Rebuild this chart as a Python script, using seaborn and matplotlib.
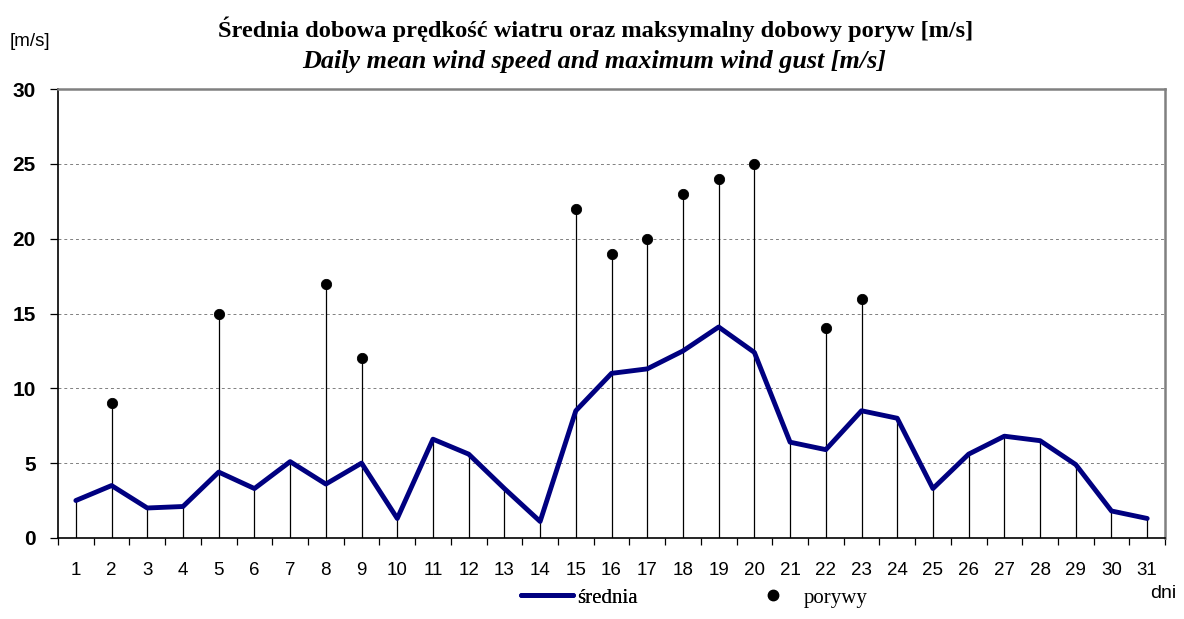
import seaborn as sns
import matplotlib.pyplot as plt
import numpy as np
import pandas as pd
from matplotlib.lines import Line2D
from matplotlib.ticker import MultipleLocator, FixedLocator

days = list(range(1, 32))
srednia = [2.5, 3.5, 2.0, 2.1, 4.4, 3.3, 5.1, 3.6, 5.0, 1.3,
           6.6, 5.6, 3.3, 1.1, 8.5, 11.0, 11.3, 12.5, 14.1, 12.4,
           6.4, 5.9, 8.5, 8.0, 3.3, 5.6, 6.8, 6.5, 4.9, 1.8, 1.3]
gust_days = [2, 5, 8, 9, 15, 16, 17, 18, 19, 20, 22, 23]
porywy = [9, 15, 17, 12, 22, 19, 20, 23, 24, 25, 14, 16]

sns.set_theme(style="white")
plt.rcParams['font.family'] = ['Liberation Sans', 'DejaVu Sans']
plt.rcParams['text.color'] = 'black'
plt.rcParams['xtick.color'] = 'black'
plt.rcParams['ytick.color'] = 'black'
serif = ["Liberation Serif", "DejaVu Serif"]

mean_df = pd.DataFrame({"dzien": days, "srednia": srednia})
gust_df = pd.DataFrame({"dzien": gust_days, "porywy": porywy})

# drop lines go to the higher of the two series
top = mean_df.set_index("dzien")["srednia"].copy()
for d, g in zip(gust_days, porywy):
    top[d] = max(top[d], g)

fig = plt.figure(figsize=(11.84, 6.19), dpi=100)
ax = fig.add_axes([0.049, 0.131, 0.935, 0.725])

ax.vlines(top.index, 0, top.values, color="black", linewidth=0.9, zorder=1)
sns.lineplot(data=mean_df, x="dzien", y="srednia", ax=ax, color="#000080",
             linewidth=3.5, zorder=3)
sns.scatterplot(data=gust_df, x="dzien", y="porywy", ax=ax, color="black",
                s=55, edgecolor="black", zorder=4)

ax.set_xlim(0.5, 31.5)
ax.set_ylim(0, 30)
ax.yaxis.set_major_locator(MultipleLocator(5))
ax.set_xticks(days)
ax.set_xticklabels([str(d) for d in days], fontsize=13.5)
ax.xaxis.set_minor_locator(FixedLocator(np.arange(0.5, 32, 1)))
ax.tick_params(axis="x", which="major", length=0, pad=17)
ax.tick_params(axis="x", which="minor", length=5, width=0.9, direction="out",
               bottom=True, color="black")
ax.tick_params(axis="y", which="major", length=6, width=0.9, direction="out",
               left=True, color="black", labelsize=15, pad=10)
for t in ax.get_yticklabels():
    t.set_fontweight("bold")

ax.yaxis.grid(True, linestyle=(0, (3, 3)), color="#808080", linewidth=0.7)
ax.set_axisbelow(True)
for side in ["left", "bottom"]:
    ax.spines[side].set_color("black")
    ax.spines[side].set_linewidth(1.2)
for side in ["top", "right"]:
    ax.spines[side].set_color("#808080")
    ax.spines[side].set_linewidth(1.8)
ax.set_xlabel("")
ax.set_ylabel("")

fig.text(0.503, 0.953, "Średnia dobowa prędkość wiatru oraz maksymalny dobowy poryw [m/s]",
         ha="center", va="center", fontsize=17.6, fontweight="bold", family=serif)
fig.text(0.502, 0.901, "Daily mean wind speed and maximum wind gust [m/s]",
         ha="center", va="center", fontsize=18.8, fontweight="bold", style="italic",
         family=serif)
fig.text(0.008, 0.933, "[m/s]", ha="left", va="center", fontsize=13.5)
fig.text(0.971, 0.042, "dni", ha="left", va="center", fontsize=14)

leg_kw = dict(frameon=False, borderpad=0, borderaxespad=0, loc="center left",
              prop={"family": serif, "size": 15})
leg1 = fig.legend([Line2D([], [], color="#000080", linewidth=3.5)], ["średnia"],
                  bbox_to_anchor=(0.44, 0.034), handlelength=2.5,
                  handletextpad=0.2, **leg_kw)
fig.add_artist(leg1)
fig.legend([Line2D([], [], color="black", marker="o", linestyle="none", markersize=7.5)],
           ["porywy"], bbox_to_anchor=(0.644, 0.034), handlelength=1.0,
           handletextpad=0.96, **leg_kw)

fig.savefig("out.png", dpi=100)
